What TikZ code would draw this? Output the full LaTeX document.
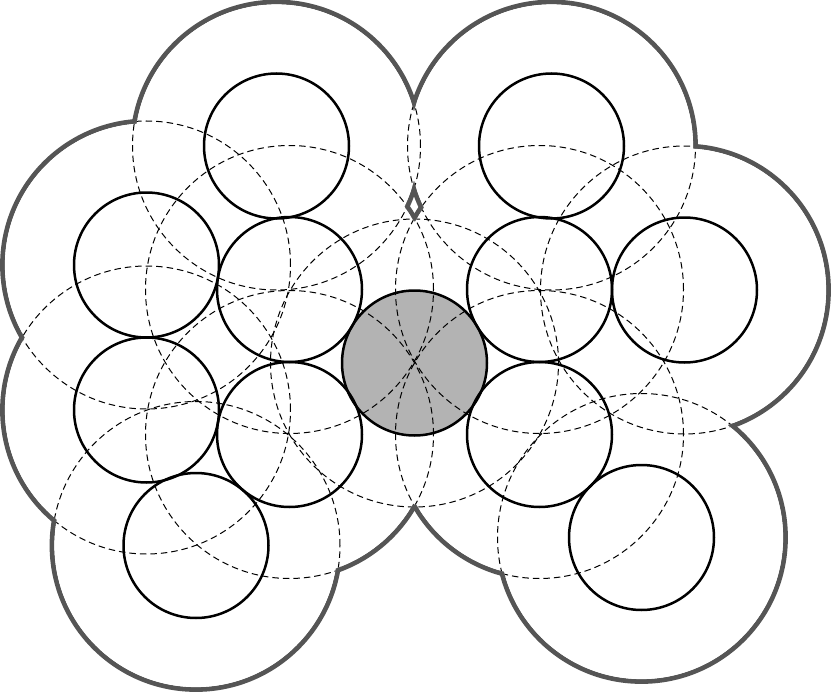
\documentclass[tikz,border=0pt]{standalone}
\definecolor{hullgray}{HTML}{555555}
\definecolor{coregray}{HTML}{B3B3B3}
\tikzset{
  hull/.style={draw=hullgray, line width=4.8pt},
  probe/.style={draw=black, line width=1pt, dash pattern=on 6.5pt off 4pt},
  atom/.style={draw=black, line width=2.5pt},
}
\begin{document}
\begin{tikzpicture}[x=1pt,y=-1pt]
\useasboundingbox (0,0) rectangle (831,693);
\coordinate (a1) at (276.5,146);
\coordinate (a2) at (551.5,146);
\coordinate (a3) at (146.5,265);
\coordinate (a4) at (289.5,289.5);
\coordinate (a5) at (539.5,289.5);
\coordinate (a6) at (684.5,290);
\coordinate (a7) at (414.5,363);
\coordinate (a8) at (146.5,410);
\coordinate (a9) at (289.5,434.5);
\coordinate (a10) at (539.5,434.5);
\coordinate (a11) at (196,545.5);
\coordinate (a12) at (641.5,537.5);
\def\atoms{a1,a2,a3,a4,a5,a6,a7,a8,a9,a10,a11,a12}
% outer envelope (stroke centred on boundary)
\foreach \c in \atoms \draw[hull] (\c) circle[radius=144pt];
\fill[white] \foreach \c in \atoms {(\c) circle[radius=141.6pt]};
% central atom
\fill[coregray] (a7) circle[radius=72.5pt];
% probe spheres, only inside the envelope
\begin{scope}
  \clip \foreach \c in \atoms {(\c) circle[radius=141.6pt]};
  \foreach \c in \atoms \draw[probe] (\c) circle[radius=144pt];
\end{scope}
% atoms
\foreach \c in \atoms \draw[atom] (\c) circle[radius=72.5pt];
\end{tikzpicture}
\end{document}
